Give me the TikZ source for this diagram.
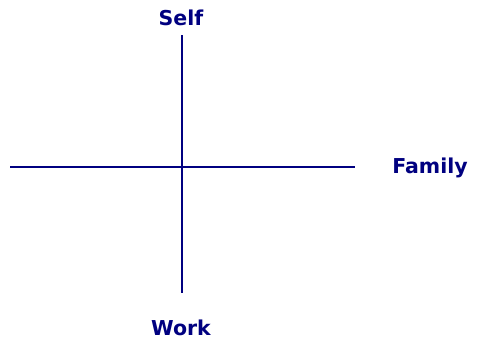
\documentclass[tikz,border=0pt]{standalone}
\usepackage{fontspec}
\setmainfont{DejaVu Sans}
\definecolor{navy}{HTML}{000080}
\begin{document}
\begin{tikzpicture}[x=1pt,y=-1pt,
  axis/.style={draw=navy,line width=1.3pt},
  lbl/.style={text=navy,font=\bfseries\fontsize{20.5}{24}\selectfont,inner sep=0pt}]
\useasboundingbox (0,0) rectangle (479,340);
\coordinate (top) at (182,35);
\coordinate (bot) at (182,293);
\coordinate (left) at (10,167);
\coordinate (right) at (355,167);
\draw[axis] (top) -- (bot);
\draw[axis] (left) -- (right);
\node[lbl,anchor=base] (self) at (181,25) {Self};
\node[lbl,anchor=base] (family) at (430,173) {Family};
\node[lbl,anchor=base] (work) at (181,335) {Work};
\end{tikzpicture}
\end{document}
